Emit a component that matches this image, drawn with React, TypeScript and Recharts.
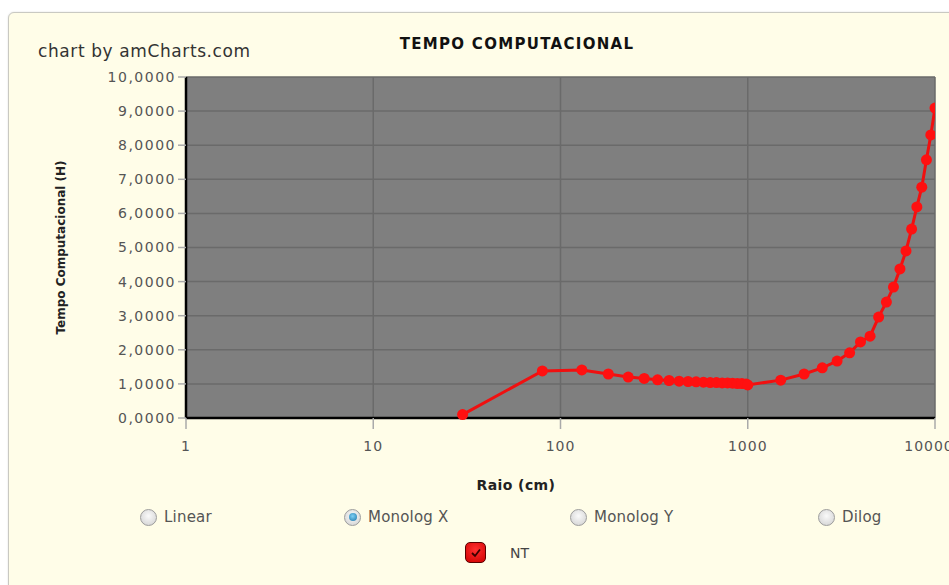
import React from "react";
import { LineChart, Line, XAxis, YAxis, CartesianGrid, Label } from "recharts";

// Raio (cm) sampled along the log axis
const raio = [
  30, 80, 130, 180, 230, 280, 330, 380, 430, 480, 530, 580, 630, 680, 730, 780, 830, 880, 930, 980, 1000,
  1500, 2000, 2500, 3000, 3500, 4000, 4500, 5000, 5500, 6000, 6500, 7000, 7500, 8000, 8500, 9000, 9500, 10000,
];

// Tempo computacional (H) for series NT
const nt = [
  0.1, 1.38, 1.41, 1.29, 1.2, 1.16, 1.12, 1.1, 1.08, 1.07, 1.06, 1.05, 1.04, 1.04, 1.03, 1.03, 1.02, 1.01, 1.01, 1.0, 0.97,
  1.11, 1.29, 1.47, 1.67, 1.91, 2.23, 2.4, 2.96, 3.4, 3.84, 4.37, 4.9, 5.54, 6.19, 6.77, 7.57, 8.3, 9.09,
];

const xTicks = [1, 10, 100, 1000, 10000];
const yTicks = [0, 1, 2, 3, 4, 5, 6, 7, 8, 9, 10];

const scaleModes = ["Linear", "Monolog X", "Monolog Y", "Dilog"];
const selectedMode = "Monolog X";
const seriesName = "NT";

const data = raio.map((r, i) => ({ raio: r, nt: nt[i] }));

const FONT = "'DejaVu Sans', Verdana, sans-serif";

// radio positions (circle centre x)
const radioX = [148, 352, 578, 826];

function Radio({ label, x, checked }: { label: string; x: number; checked: boolean }) {
  return (
    <div style={{ position: "absolute", left: x - 8, top: 508, display: "flex", alignItems: "center" }}>
      <div
        style={{
          width: 15,
          height: 15,
          borderRadius: "50%",
          border: "1px solid #9c9c9c",
          background: "radial-gradient(circle at 50% 40%, #fafafa, #cfcfcf)",
          display: "flex",
          alignItems: "center",
          justifyContent: "center",
        }}
      >
        {checked && (
          <div
            style={{
              width: 8,
              height: 8,
              borderRadius: "50%",
              background: "radial-gradient(circle at 45% 40%, #7fd0f5, #1c74a8)",
            }}
          />
        )}
      </div>
      <span style={{ marginLeft: 7, fontSize: 15, color: "#555", letterSpacing: 0.2 }}>{label}</span>
    </div>
  );
}

export default function App() {
  return (
    <div style={{ position: "absolute", left: 0, top: 0, width: 949, height: 585, background: "#fff", overflow: "hidden", fontFamily: FONT }}>
      <div
        style={{
          position: "absolute",
          left: 8,
          top: 12,
          width: 960,
          height: 600,
          background: "#fffde8",
          border: "1px solid #c9c9c2",
          borderTopLeftRadius: 6,
          boxShadow: "0 0 2px #ddd",
        }}
      />
      <div style={{ position: "absolute", left: 38, top: 41, fontSize: 17, color: "#333", letterSpacing: 0.6 }}>
        chart by amCharts.com
      </div>
      <div
        style={{
          position: "absolute",
          left: 517,
          top: 35,
          transform: "translateX(-50%)",
          fontSize: 15,
          fontWeight: "bold",
          color: "#111",
          letterSpacing: 1.3,
          whiteSpace: "nowrap",
        }}
      >
        TEMPO COMPUTACIONAL
      </div>
      <div style={{ position: "absolute", left: 0, top: 0 }}>
        <LineChart width={949} height={585} data={data} margin={{ top: 77, right: 14, left: 106, bottom: 97 }}>
          <CartesianGrid fill="#7f7f7f" stroke="#6a6a6a" strokeWidth={1.5} />
          <XAxis
            dataKey="raio"
            type="number"
            scale="log"
            domain={[1, 10000]}
            ticks={xTicks}
            allowDataOverflow
            height={70}
            axisLine={{ stroke: "#000", strokeWidth: 2.5 }}
            tickLine={{ stroke: "#aaa", strokeWidth: 1.5 }}
            tickSize={11}
            tickMargin={12}
            tick={{ fill: "#555", fontSize: 14, fontFamily: FONT, letterSpacing: 1 }}
          />
          <YAxis
            type="number"
            domain={[0, 10]}
            ticks={yTicks}
            width={80}
            axisLine={{ stroke: "#000", strokeWidth: 2.5 }}
            tickLine={{ stroke: "#aaa", strokeWidth: 1.5 }}
            tickSize={8}
            tickMargin={2}
            tick={{ fill: "#555", fontSize: 14, fontFamily: FONT, letterSpacing: 1.5 }}
            tickFormatter={(v: number) => v.toFixed(4).replace(".", ",")}
          >
            <Label
              value="Tempo Computacional (H)"
              angle={-90}
              position="insideLeft"
              offset={-45}
              style={{ textAnchor: "middle", fontSize: 12, fontWeight: "bold", fill: "#222", fontFamily: FONT }}
            />
          </YAxis>
          <Line
            type="linear"
            dataKey="nt"
            name={seriesName}
            stroke="#f01010"
            strokeWidth={3}
            dot={{ r: 5.5, fill: "#ff1010", stroke: "#ff1010", strokeWidth: 0 }}
            activeDot={false}
            isAnimationActive={false}
          />
        </LineChart>
      </div>
      <div
        style={{
          position: "absolute",
          left: 516,
          top: 477,
          transform: "translateX(-50%)",
          fontSize: 14,
          fontWeight: "bold",
          color: "#222",
          letterSpacing: 0.4,
          whiteSpace: "nowrap",
        }}
      >
        Raio (cm)
      </div>
      {scaleModes.map((m, i) => (
        <Radio key={m} label={m} x={radioX[i]} checked={m === selectedMode} />
      ))}
      <div style={{ position: "absolute", left: 465, top: 542, display: "flex", alignItems: "center" }}>
        <div
          style={{
            width: 19,
            height: 19,
            borderRadius: 5,
            border: "1.5px solid #5a0000",
            background: "radial-gradient(circle at 50% 35%, #ff3030, #d00000)",
            display: "flex",
            alignItems: "center",
            justifyContent: "center",
          }}
        >
          <svg width="12" height="12" viewBox="0 0 12 12">
            <path d="M2 6 L5 9 L10 2.5" fill="none" stroke="#3a0000" strokeWidth={1.8} />
          </svg>
        </div>
        <span style={{ marginLeft: 24, fontSize: 14, color: "#444" }}>{seriesName}</span>
      </div>
    </div>
  );
}
